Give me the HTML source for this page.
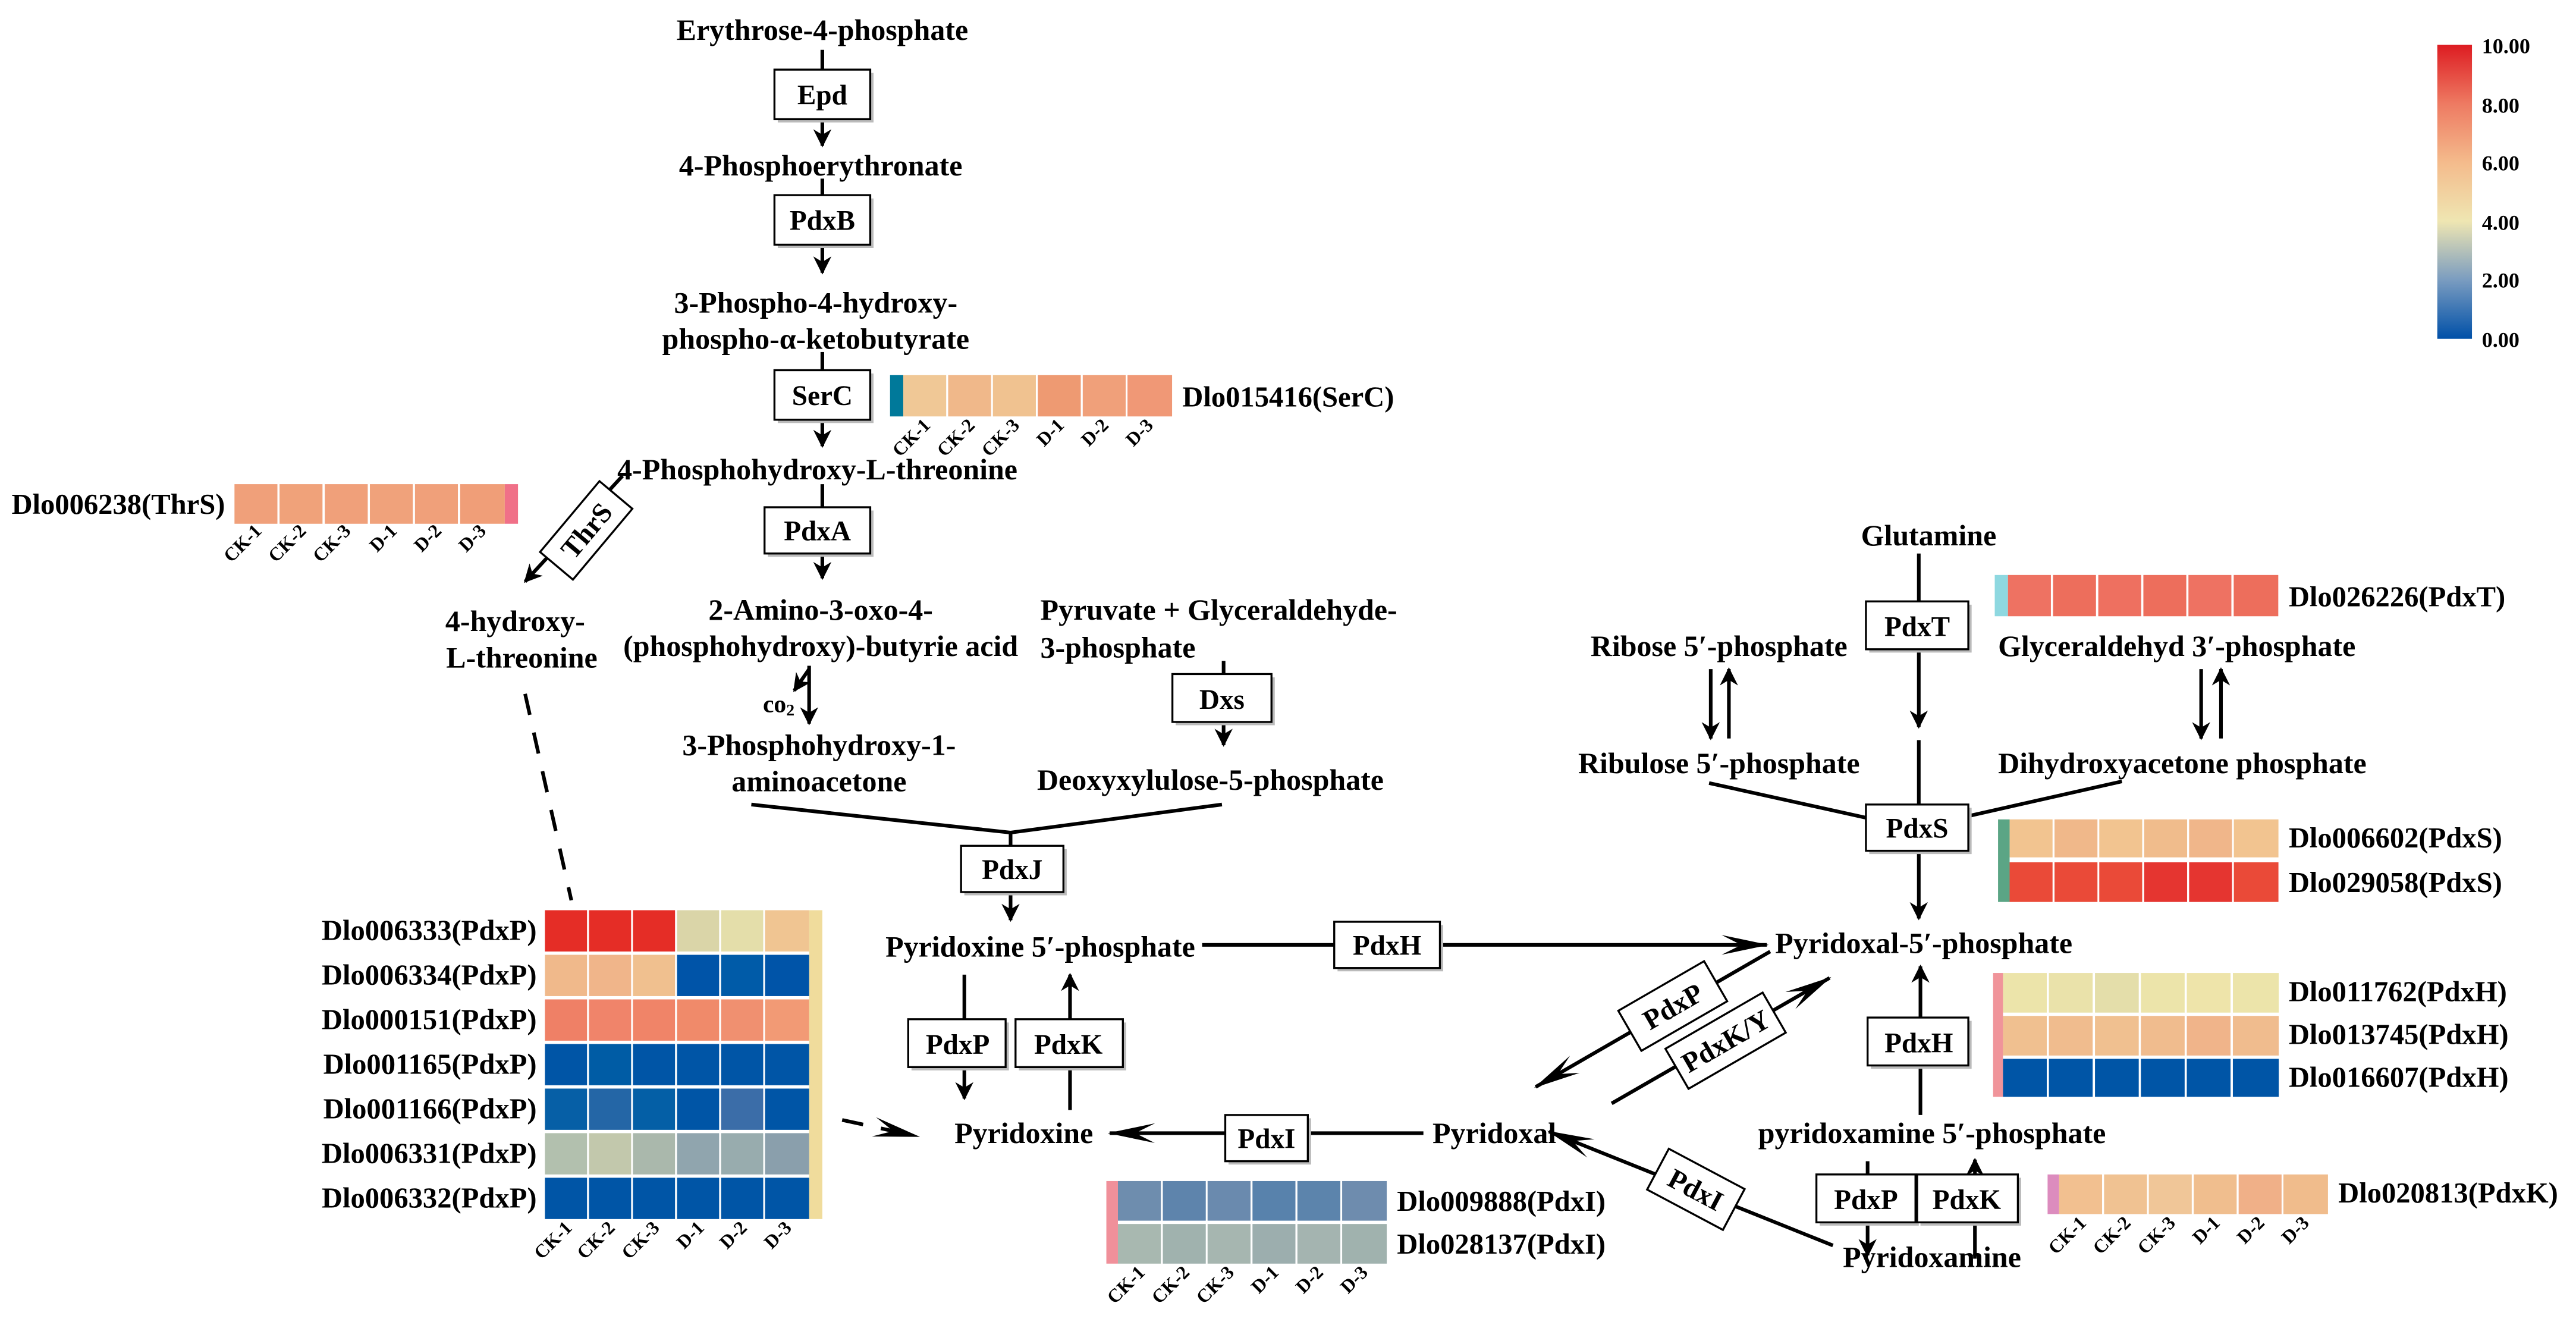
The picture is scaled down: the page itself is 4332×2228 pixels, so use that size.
<!DOCTYPE html>
<html><head><meta charset="utf-8"><style>
html,body{margin:0;padding:0;background:#fff;}
svg{display:block;}
text{font-family:"Liberation Serif","Times New Roman",serif;font-weight:bold;fill:#000;}
</style></head><body>
<svg width="4332" height="2228" viewBox="0 0 1560 802" xmlns="http://www.w3.org/2000/svg">
<defs>
<marker id="a" viewBox="0 0 10 10" refX="9" refY="5" markerWidth="5" markerHeight="5" markerUnits="strokeWidth" orient="auto"><path d="M0,0 L10,5 L0,10 L3,5 z" fill="#000"/></marker>
<marker id="b" viewBox="0 0 24 10" refX="23" refY="5" markerWidth="13" markerHeight="5.5" markerUnits="strokeWidth" orient="auto"><path d="M0,0 L24,5 L0,10 L10,5 z" fill="#000"/></marker>
<linearGradient id="lg" x1="0" y1="0" x2="0" y2="1">
<stop offset="0" stop-color="#DD1C22"/><stop offset="0.2" stop-color="#EE7A62"/><stop offset="0.4" stop-color="#F4BB8C"/><stop offset="0.6" stop-color="#EFE6B2"/><stop offset="0.8" stop-color="#7A9CC0"/><stop offset="1" stop-color="#0050A8"/>
</linearGradient>
</defs>
<g stroke="#000" stroke-width="2.2" fill="none">
<line x1="498" y1="30" x2="498" y2="42"/>
<line x1="498" y1="72" x2="498" y2="88" marker-end="url(#a)"/>
<line x1="498" y1="108" x2="498" y2="118"/>
<line x1="498" y1="148" x2="498" y2="165" marker-end="url(#a)"/>
<line x1="498" y1="213" x2="498" y2="224"/>
<line x1="498" y1="254" x2="498" y2="270" marker-end="url(#a)"/>
<line x1="498" y1="293" x2="498" y2="307"/>
<line x1="498" y1="335" x2="498" y2="350" marker-end="url(#a)"/>
<line x1="490" y1="403" x2="490" y2="438" marker-end="url(#a)"/>
<path d="M490,405 L481,418" marker-end="url(#a)"/>
<line x1="741" y1="400" x2="741" y2="408"/>
<line x1="741" y1="437" x2="741" y2="451" marker-end="url(#a)"/>
<line x1="455" y1="487" x2="612" y2="504"/>
<line x1="740" y1="487" x2="612" y2="504"/>
<line x1="612" y1="504" x2="612" y2="512"/>
<line x1="612" y1="540" x2="612" y2="557" marker-end="url(#a)"/>
<line x1="728" y1="572" x2="808" y2="572"/>
<line x1="872" y1="572" x2="1070" y2="572" marker-end="url(#b)"/>
<line x1="584" y1="590" x2="584" y2="617"/>
<line x1="584" y1="646" x2="584" y2="665" marker-end="url(#a)"/>
<line x1="648" y1="672" x2="648" y2="646"/>
<line x1="648" y1="617" x2="648" y2="590" marker-end="url(#a)"/>
<line x1="862" y1="686" x2="792" y2="686"/>
<line x1="742" y1="686" x2="672" y2="686" marker-end="url(#b)"/>
<line x1="377" y1="288" x2="318" y2="352" marker-end="url(#a)"/>
<line x1="318" y1="420" x2="346" y2="545" stroke-dasharray="13,11"/>
<line x1="510" y1="678" x2="556" y2="688" stroke-dasharray="13,11" marker-end="url(#b)"/>
<line x1="1162" y1="335" x2="1162" y2="364"/>
<line x1="1162" y1="393" x2="1162" y2="440" marker-end="url(#a)"/>
<line x1="1036" y1="405" x2="1036" y2="447" marker-end="url(#a)"/>
<line x1="1047" y1="447" x2="1047" y2="405" marker-end="url(#a)"/>
<line x1="1333" y1="405" x2="1333" y2="447" marker-end="url(#a)"/>
<line x1="1345" y1="447" x2="1345" y2="405" marker-end="url(#a)"/>
<line x1="1162" y1="448" x2="1162" y2="487"/>
<line x1="1035" y1="474" x2="1130" y2="495"/>
<line x1="1285" y1="473" x2="1192" y2="494"/>
<line x1="1162" y1="515" x2="1162" y2="556" marker-end="url(#a)"/>
<line x1="1163" y1="675" x2="1163" y2="645"/>
<line x1="1163" y1="616" x2="1163" y2="585" marker-end="url(#a)"/>
<line x1="1131" y1="703" x2="1131" y2="711"/>
<line x1="1131" y1="740" x2="1131" y2="760" marker-end="url(#a)"/>
<line x1="1196" y1="762" x2="1196" y2="740"/>
<line x1="1196" y1="711" x2="1196" y2="702" marker-end="url(#a)"/>
<line x1="1072" y1="576" x2="930" y2="658" marker-end="url(#b)"/>
<line x1="976" y1="668" x2="1108" y2="592" marker-end="url(#b)"/>
<line x1="1110" y1="754" x2="938" y2="685" marker-end="url(#b)"/>
</g>
<g stroke="#000" stroke-width="1.2">
<g fill="#bbb" stroke="none">
<rect x="471" y="44" width="58" height="30"/><rect x="471" y="120" width="58" height="30"/><rect x="471" y="226" width="58" height="30"/><rect x="465" y="309" width="64" height="28"/><rect x="712" y="410" width="60" height="29"/><rect x="584" y="514" width="62" height="28"/><rect x="810" y="560" width="64" height="28"/><rect x="552" y="619" width="59" height="29"/><rect x="617" y="619" width="65" height="29"/><rect x="744" y="677" width="50" height="28"/><rect x="1132" y="366" width="62" height="29"/><rect x="1132" y="489" width="62" height="28"/><rect x="1133" y="618" width="61" height="29"/><rect x="1102" y="713" width="60" height="29"/><rect x="1163" y="713" width="61" height="29"/>
</g>
<g fill="#fff">
<rect x="469" y="42" width="58" height="30"/><rect x="469" y="118" width="58" height="30"/><rect x="469" y="224" width="58" height="30"/><rect x="463" y="307" width="64" height="28"/><rect x="710" y="408" width="60" height="29"/><rect x="582" y="512" width="62" height="28"/><rect x="808" y="558" width="64" height="28"/><rect x="550" y="617" width="59" height="29"/><rect x="615" y="617" width="65" height="29"/><rect x="742" y="675" width="50" height="28"/><rect x="1130" y="364" width="62" height="29"/><rect x="1130" y="487" width="62" height="28"/><rect x="1131" y="616" width="61" height="29"/><rect x="1100" y="711" width="60" height="29"/><rect x="1161" y="711" width="61" height="29"/>
</g>
<g transform="translate(355,321) rotate(-50)"><rect x="-28" y="-13" width="56" height="26" fill="#fff"/></g>
<g transform="translate(1013,609) rotate(-30)"><rect x="-30" y="-14" width="60" height="28" fill="#fff"/></g>
<g transform="translate(1045,630) rotate(-30)"><rect x="-34" y="-14" width="68" height="28" fill="#fff"/></g>
<g transform="translate(1027,720) rotate(28)"><rect x="-26" y="-14" width="52" height="28" fill="#fff"/></g>
</g>
<g font-size="17" text-anchor="middle">
<text x="498" y="63">Epd</text><text x="498" y="139">PdxB</text><text x="498" y="245">SerC</text><text x="495" y="327">PdxA</text><text x="740" y="429">Dxs</text><text x="613" y="532">PdxJ</text><text x="840" y="578">PdxH</text><text x="580" y="638">PdxP</text><text x="647" y="638">PdxK</text><text x="767" y="695">PdxI</text><text x="1161" y="385">PdxT</text><text x="1161" y="507">PdxS</text><text x="1162" y="637">PdxH</text><text x="1130" y="732">PdxP</text><text x="1191" y="732">PdxK</text>
<text transform="translate(355,321) rotate(-50)" y="6">ThrS</text>
<text transform="translate(1013,609) rotate(-30)" y="6">PdxP</text>
<text transform="translate(1045,630) rotate(-30)" y="6">PdxK/Y</text>
<text transform="translate(1027,720) rotate(28)" y="6">PdxI</text>
</g>
<g font-size="18" text-anchor="middle">
<text x="498" y="24">Erythrose-4-phosphate</text>
<text x="497" y="106">4-Phosphoerythronate</text>
<text x="494" y="189">3-Phospho-4-hydroxy-</text>
<text x="494" y="211">phospho-α-ketobutyrate</text>
<text x="495" y="290">4-Phosphohydroxy-L-threonine</text>
<text x="497" y="375">2-Amino-3-oxo-4-</text>
<text x="497" y="397">(phosphohydroxy)-butyrie acid</text>
<text x="496" y="457">3-Phosphohydroxy-1-</text>
<text x="496" y="479">aminoacetone</text>
<text x="733" y="478">Deoxyxylulose-5-phosphate</text>
<text x="312" y="382">4-hydroxy-</text>
<text x="316" y="404">L-threonine</text>
<text x="630" y="579">Pyridoxine 5′-phosphate</text>
<text x="620" y="692">Pyridoxine</text>
<text x="905" y="692">Pyridoxal</text>
<text x="1168" y="330">Glutamine</text>
<text x="1041" y="397">Ribose 5′-phosphate</text>
<text x="1041" y="468">Ribulose 5′-phosphate</text>
<text x="1165" y="577">Pyridoxal-5′-phosphate</text>
<text x="1170" y="692">pyridoxamine 5′-phosphate</text>
<text x="1170" y="767">Pyridoxamine</text>
</g>
<g font-size="18">
<text x="630" y="375">Pyruvate + Glyceraldehyde-</text>
<text x="630" y="398">3-phosphate</text>
<text x="1210" y="397">Glyceraldehyd 3′-phosphate</text>
<text x="1210" y="468">Dihydroxyacetone phosphate</text>
<text x="462" y="431" font-size="15">co<tspan font-size="10" dy="2">2</tspan></text>
</g>
<g stroke="none">
<rect x="539" y="227" width="8" height="25" fill="#00799A"/>
<rect x="547" y="227" width="26" height="25" fill="#F0C896"/><rect x="574.2" y="227" width="26" height="25" fill="#F0B88A"/><rect x="601.3" y="227" width="26" height="25" fill="#F0C290"/><rect x="628.5" y="227" width="26" height="25" fill="#EE9A72"/><rect x="655.7" y="227" width="26" height="25" fill="#F0A07A"/><rect x="682.8" y="227" width="27" height="25" fill="#F09876"/>
<rect x="142" y="293" width="26" height="24" fill="#F0A07A"/><rect x="169.3" y="293" width="26" height="24" fill="#F0A27A"/><rect x="196.7" y="293" width="26" height="24" fill="#F0A07A"/><rect x="224" y="293" width="26" height="24" fill="#F0A27B"/><rect x="251.3" y="293" width="26" height="24" fill="#F0A07A"/><rect x="278.7" y="293" width="27" height="24" fill="#F09E78"/>
<rect x="305.7" y="293" width="8" height="24" fill="#F07088"/>
<rect x="490" y="551" width="8" height="187" fill="#F0DC9C"/>
<rect x="330" y="551" width="25.5" height="25" fill="#E52D26"/><rect x="356.7" y="551" width="25.5" height="25" fill="#E52D26"/><rect x="383.3" y="551" width="25.5" height="25" fill="#E52D26"/><rect x="410" y="551" width="25.5" height="25" fill="#DAD5A8"/><rect x="436.7" y="551" width="25.5" height="25" fill="#E4DEAA"/><rect x="463.3" y="551" width="26.7" height="25" fill="#F0C592"/>
<rect x="330" y="578" width="25.5" height="25" fill="#F0B98B"/><rect x="356.7" y="578" width="25.5" height="25" fill="#F0B58A"/><rect x="383.3" y="578" width="25.5" height="25" fill="#F0C08F"/><rect x="410" y="578" width="25.5" height="25" fill="#0054A8"/><rect x="436.7" y="578" width="25.5" height="25" fill="#005BA8"/><rect x="463.3" y="578" width="26.7" height="25" fill="#0054A8"/>
<rect x="330" y="605" width="25.5" height="25" fill="#EF8066"/><rect x="356.7" y="605" width="25.5" height="25" fill="#F0846A"/><rect x="383.3" y="605" width="25.5" height="25" fill="#F08468"/><rect x="410" y="605" width="25.5" height="25" fill="#F08A6A"/><rect x="436.7" y="605" width="25.5" height="25" fill="#F09070"/><rect x="463.3" y="605" width="26.7" height="25" fill="#F29A75"/>
<rect x="330" y="632" width="25.5" height="25" fill="#0055A6"/><rect x="356.7" y="632" width="25.5" height="25" fill="#005CA5"/><rect x="383.3" y="632" width="25.5" height="25" fill="#0055A6"/><rect x="410" y="632" width="25.5" height="25" fill="#0055A6"/><rect x="436.7" y="632" width="25.5" height="25" fill="#0055A6"/><rect x="463.3" y="632" width="26.7" height="25" fill="#0055A6"/>
<rect x="330" y="659" width="25.5" height="25" fill="#065FA6"/><rect x="356.7" y="659" width="25.5" height="25" fill="#2466A6"/><rect x="383.3" y="659" width="25.5" height="25" fill="#045FA6"/><rect x="410" y="659" width="25.5" height="25" fill="#0055A6"/><rect x="436.7" y="659" width="25.5" height="25" fill="#3B6DA8"/><rect x="463.3" y="659" width="26.7" height="25" fill="#0055A6"/>
<rect x="330" y="686" width="25.5" height="25" fill="#B2C0AE"/><rect x="356.7" y="686" width="25.5" height="25" fill="#C2C8AC"/><rect x="383.3" y="686" width="25.5" height="25" fill="#AAB8AC"/><rect x="410" y="686" width="25.5" height="25" fill="#90A5AE"/><rect x="436.7" y="686" width="25.5" height="25" fill="#98ACAE"/><rect x="463.3" y="686" width="26.7" height="25" fill="#8A9FAC"/>
<rect x="330" y="713" width="25.5" height="25" fill="#0055A6"/><rect x="356.7" y="713" width="25.5" height="25" fill="#0055A6"/><rect x="383.3" y="713" width="25.5" height="25" fill="#0055A6"/><rect x="410" y="713" width="25.5" height="25" fill="#0055A6"/><rect x="436.7" y="713" width="25.5" height="25" fill="#0055A6"/><rect x="463.3" y="713" width="26.7" height="25" fill="#0055A6"/>
<rect x="670" y="715" width="7" height="50" fill="#F0909A"/>
<rect x="677" y="715" width="26" height="24" fill="#6E8DAE"/><rect x="704.2" y="715" width="26" height="24" fill="#5E84AC"/><rect x="731.3" y="715" width="26" height="24" fill="#6A8AAE"/><rect x="758.5" y="715" width="26" height="24" fill="#5882AC"/><rect x="785.7" y="715" width="26" height="24" fill="#5C84AC"/><rect x="812.8" y="715" width="27" height="24" fill="#6E8CAE"/>
<rect x="677" y="741" width="26" height="24" fill="#A8B8B0"/><rect x="704.2" y="741" width="26" height="24" fill="#A0B2AE"/><rect x="731.3" y="741" width="26" height="24" fill="#A6B6B0"/><rect x="758.5" y="741" width="26" height="24" fill="#9CAEAE"/><rect x="785.7" y="741" width="26" height="24" fill="#A4B4B0"/><rect x="812.8" y="741" width="27" height="24" fill="#A0B2AE"/>
<rect x="1208" y="348" width="8" height="25" fill="#8ED8E0"/>
<rect x="1216" y="348" width="26" height="25" fill="#EE7262"/><rect x="1243.3" y="348" width="26" height="25" fill="#ED6E5C"/><rect x="1270.7" y="348" width="26" height="25" fill="#EE7060"/><rect x="1298" y="348" width="26" height="25" fill="#ED6E5C"/><rect x="1325.3" y="348" width="26" height="25" fill="#EE7262"/><rect x="1352.7" y="348" width="27" height="25" fill="#ED6E5C"/>
<rect x="1210" y="496" width="7" height="50" fill="#5BA585"/>
<rect x="1217" y="496" width="26" height="23" fill="#F2C490"/><rect x="1244.2" y="496" width="26" height="23" fill="#F0B88A"/><rect x="1271.3" y="496" width="26" height="23" fill="#F2C490"/><rect x="1298.5" y="496" width="26" height="23" fill="#F0BC8C"/><rect x="1325.7" y="496" width="26" height="23" fill="#F0B68A"/><rect x="1352.8" y="496" width="27" height="23" fill="#F2C490"/>
<rect x="1217" y="522" width="26" height="24" fill="#EA4A38"/><rect x="1244.2" y="522" width="26" height="24" fill="#EA4A38"/><rect x="1271.3" y="522" width="26" height="24" fill="#EA4A38"/><rect x="1298.5" y="522" width="26" height="24" fill="#E53530"/><rect x="1325.7" y="522" width="26" height="24" fill="#E53530"/><rect x="1352.8" y="522" width="27" height="24" fill="#EA4A38"/>
<rect x="1207" y="589" width="6" height="75" fill="#F0949A"/>
<rect x="1213" y="589" width="26.5" height="24" fill="#ECE4AA"/><rect x="1240.8" y="589" width="26.5" height="24" fill="#EAE2AA"/><rect x="1268.7" y="589" width="26.5" height="24" fill="#E4DEAA"/><rect x="1296.5" y="589" width="26.5" height="24" fill="#ECE4AA"/><rect x="1324.3" y="589" width="26.5" height="24" fill="#EEE4AA"/><rect x="1352.2" y="589" width="27.8" height="24" fill="#ECE4AA"/>
<rect x="1213" y="615" width="26.5" height="24" fill="#F0C090"/><rect x="1240.8" y="615" width="26.5" height="24" fill="#F0BC8E"/><rect x="1268.7" y="615" width="26.5" height="24" fill="#F0C090"/><rect x="1296.5" y="615" width="26.5" height="24" fill="#F0BC8E"/><rect x="1324.3" y="615" width="26.5" height="24" fill="#F0B48A"/><rect x="1352.2" y="615" width="27.8" height="24" fill="#F0BC8E"/>
<rect x="1213" y="641" width="26.5" height="23" fill="#0055A6"/><rect x="1240.8" y="641" width="26.5" height="23" fill="#0055A6"/><rect x="1268.7" y="641" width="26.5" height="23" fill="#0055A6"/><rect x="1296.5" y="641" width="26.5" height="23" fill="#0055A6"/><rect x="1324.3" y="641" width="26.5" height="23" fill="#0055A6"/><rect x="1352.2" y="641" width="27.8" height="23" fill="#0055A6"/>
<rect x="1240" y="711" width="7" height="24" fill="#DC8CBE"/>
<rect x="1247" y="711" width="26" height="24" fill="#F2C090"/><rect x="1274.2" y="711" width="26" height="24" fill="#F0C292"/><rect x="1301.3" y="711" width="26" height="24" fill="#F0C698"/><rect x="1328.5" y="711" width="26" height="24" fill="#F0BE8E"/><rect x="1355.7" y="711" width="26" height="24" fill="#F0B088"/><rect x="1382.8" y="711" width="27" height="24" fill="#F0BC8C"/>
<rect x="1476" y="27" width="21" height="178" fill="url(#lg)"/>
</g>
<g font-size="17.5">
<text x="716" y="246">Dlo015416(SerC)</text>
<text x="7" y="311">Dlo006238(ThrS)</text>
<text x="846" y="733">Dlo009888(PdxI)</text>
<text x="846" y="759">Dlo028137(PdxI)</text>
<text x="1386" y="367">Dlo026226(PdxT)</text>
<text x="1386" y="513">Dlo006602(PdxS)</text>
<text x="1386" y="540">Dlo029058(PdxS)</text>
<text x="1386" y="606">Dlo011762(PdxH)</text>
<text x="1386" y="632">Dlo013745(PdxH)</text>
<text x="1386" y="658">Dlo016607(PdxH)</text>
<text x="1416" y="728">Dlo020813(PdxK)</text>
</g>
<g font-size="17.5" text-anchor="end">
<text x="325" y="569">Dlo006333(PdxP)</text>
<text x="325" y="596">Dlo006334(PdxP)</text>
<text x="325" y="623">Dlo000151(PdxP)</text>
<text x="325" y="650">Dlo001165(PdxP)</text>
<text x="325" y="677">Dlo001166(PdxP)</text>
<text x="325" y="704">Dlo006331(PdxP)</text>
<text x="325" y="731">Dlo006332(PdxP)</text>
</g>
<g font-size="13">
<text x="1503" y="32">10.00</text><text x="1503" y="68">8.00</text><text x="1503" y="103">6.00</text><text x="1503" y="139">4.00</text><text x="1503" y="174">2.00</text><text x="1503" y="210">0.00</text>
</g>
<g font-size="11.5" text-anchor="end">
<text transform="translate(564,258) rotate(-45)">CK-1</text><text transform="translate(591,258) rotate(-45)">CK-2</text><text transform="translate(618,258) rotate(-45)">CK-3</text><text transform="translate(645,258) rotate(-45)">D-1</text><text transform="translate(672,258) rotate(-45)">D-2</text><text transform="translate(699,258) rotate(-45)">D-3</text>
<text transform="translate(159,322) rotate(-45)">CK-1</text><text transform="translate(186,322) rotate(-45)">CK-2</text><text transform="translate(213,322) rotate(-45)">CK-3</text><text transform="translate(241,322) rotate(-45)">D-1</text><text transform="translate(268,322) rotate(-45)">D-2</text><text transform="translate(295,322) rotate(-45)">D-3</text>
<text transform="translate(347,744) rotate(-45)">CK-1</text><text transform="translate(373,744) rotate(-45)">CK-2</text><text transform="translate(400,744) rotate(-45)">CK-3</text><text transform="translate(427,744) rotate(-45)">D-1</text><text transform="translate(453,744) rotate(-45)">D-2</text><text transform="translate(480,744) rotate(-45)">D-3</text>
<text transform="translate(694,771) rotate(-45)">CK-1</text><text transform="translate(721,771) rotate(-45)">CK-2</text><text transform="translate(748,771) rotate(-45)">CK-3</text><text transform="translate(775,771) rotate(-45)">D-1</text><text transform="translate(802,771) rotate(-45)">D-2</text><text transform="translate(829,771) rotate(-45)">D-3</text>
<text transform="translate(1264,741) rotate(-45)">CK-1</text><text transform="translate(1291,741) rotate(-45)">CK-2</text><text transform="translate(1318,741) rotate(-45)">CK-3</text><text transform="translate(1345,741) rotate(-45)">D-1</text><text transform="translate(1372,741) rotate(-45)">D-2</text><text transform="translate(1399,741) rotate(-45)">D-3</text>
</g>
</svg>
</body></html>
